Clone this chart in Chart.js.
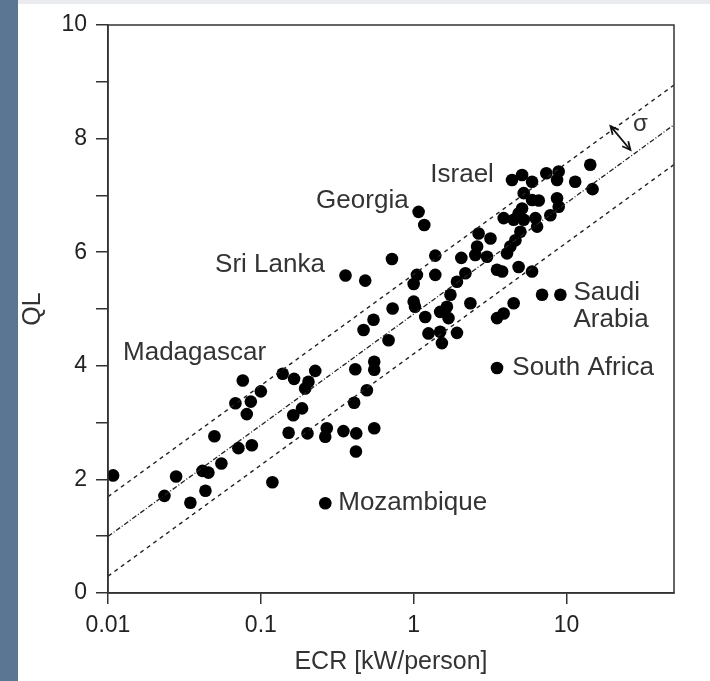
<!DOCTYPE html>
<html><head><meta charset="utf-8">
<script src="https://cdn.jsdelivr.net/npm/chart.js@4/dist/chart.umd.min.js"></script>
<style>
html,body{margin:0;padding:0;background:#fff;width:710px;height:681px;overflow:hidden}
#strip{position:absolute;left:0;top:0;width:18px;height:681px;background:#5b7692}
#topbar{position:absolute;left:18px;top:0;width:692px;height:4px;background:#e9ebee}
#wrap{position:absolute;left:0;top:0;width:710px;height:681px}
</style></head><body>
<div id="strip"></div><div id="topbar"></div>
<div id="wrap"><canvas id="c" width="710" height="681"></canvas></div>
<script>
// ECR [kW/person] for each country
const ecr = [0.0108,0.0762,0.139,0.165,0.100,0.0682,0.0860,0.0809,0.0497,0.152,0.163,0.0713,0.0873,0.0552,0.0415,0.0454,0.0279,0.0234,0.0434,0.0346,0.119,
 0.721,0.358,0.482,0.728,0.546,0.470,0.685,0.227,0.205,0.195,0.186,0.415,0.552,0.552,0.494,0.408,0.202,0.270,0.264,0.347,0.421,0.552,0.419,
 1.077,1.173,1.385,2.05,2.66,3.18,2.60,2.53,3.02,3.51,1.385,1.05,1.0,2.18,1.92,1.74,1.49,1.69,1.65,2.35,1.19,1.0,1.02,1.25,1.49,1.92,1.53,3.51,
 14.3,14.8,4.40,5.12,5.95,7.38,8.89,8.67,11.4,5.25,5.95,6.58,8.67,8.89,7.84,5.12,4.86,3.88,4.51,5.25,6.26,6.42,4.99,4.63,4.29,4.08,3.79,4.86,5.95,6.92,9.12,4.51,3.88,3.51,
 0.264];
// QL for each country
const ql = [2.07,3.74,3.86,3.77,3.55,3.34,3.37,3.15,2.76,2.82,3.13,2.55,2.60,2.28,2.15,2.12,2.05,1.71,1.80,1.59,1.95,
 5.88,5.59,5.50,5.01,4.81,4.63,4.45,3.91,3.72,3.60,3.25,3.94,4.07,3.93,3.57,3.35,2.81,2.90,2.75,2.85,2.81,2.90,2.49,
 6.71,6.48,5.94,5.90,6.33,6.24,6.10,5.95,5.92,5.69,5.60,5.60,5.44,5.63,5.48,5.25,4.95,4.84,5.04,5.10,4.86,5.13,5.04,4.57,4.60,4.58,4.40,4.84,
 7.54,7.11,7.27,7.36,7.24,7.39,7.42,7.27,7.24,7.04,6.92,6.91,6.95,6.80,6.65,6.77,6.68,6.60,6.57,6.57,6.60,6.45,6.36,6.21,6.10,5.98,5.66,5.74,5.66,5.25,5.25,5.10,4.92,3.96,
 1.58];
const xTickValues = [0.01, 0.1, 1, 10];
const yTickValues = [0, 2, 4, 6, 8, 10];
const xMin = 0.01, xMax = 50.5, yMin = 0, yMax = 10;
// regression QL = a + b*log10(ECR), band +/- sigma
const fitIntercept = 4.91, fitSlope = 1.957, fitSigma = 0.7;
// country annotations
const annText = ['Israel','Georgia','Sri Lanka','Madagascar','Saudi','Arabia','South Africa','Mozambique'];
const annX = [1.285, 0.230, 0.0502, 0.01254, 11.1, 11.1, 4.42, 0.321];
const annY = [7.36, 6.90, 5.77, 4.23, 5.28, 4.81, 3.96, 1.58];
const sigmaArrow = {x1: 19.4, y1: 8.22, x2: 26.2, y2: 7.80, tx: 27.2, ty: 8.25};

const fitLine = (off) => [xMin, xMax].map(x => ({x, y: fitIntercept + off + fitSlope * Math.log10(x)}));
const FONT = '"Liberation Sans", Arial, sans-serif';

const overlay = {
  id: 'overlay',
  afterDraw(chart) {
    const {ctx, chartArea: a, scales: {x, y}} = chart;
    ctx.save();
    ctx.strokeStyle = '#333'; ctx.lineWidth = 1.5;
    ctx.strokeRect(a.left, a.top, a.right - a.left, a.bottom - a.top);
    ctx.fillStyle = '#333';
    ctx.font = '26px ' + FONT;
    ctx.textAlign = 'left'; ctx.textBaseline = 'middle';
    annText.forEach((t, i) => ctx.fillText(t, x.getPixelForValue(annX[i]), y.getPixelForValue(annY[i])));
    // sigma arrow
    const p1 = [x.getPixelForValue(sigmaArrow.x1), y.getPixelForValue(sigmaArrow.y1)];
    const p2 = [x.getPixelForValue(sigmaArrow.x2), y.getPixelForValue(sigmaArrow.y2)];
    ctx.strokeStyle = '#111'; ctx.lineWidth = 1.8;
    ctx.beginPath(); ctx.moveTo(p1[0], p1[1]); ctx.lineTo(p2[0], p2[1]); ctx.stroke();
    const head = (tip, from) => {
      const ang = Math.atan2(tip[1] - from[1], tip[0] - from[0]);
      ctx.beginPath();
      ctx.moveTo(tip[0] - 9 * Math.cos(ang - 0.45), tip[1] - 9 * Math.sin(ang - 0.45));
      ctx.lineTo(tip[0], tip[1]);
      ctx.lineTo(tip[0] - 9 * Math.cos(ang + 0.45), tip[1] - 9 * Math.sin(ang + 0.45));
      ctx.stroke();
    };
    head(p1, p2); head(p2, p1);
    ctx.fillStyle = '#333';
    ctx.font = '24px ' + FONT;
    ctx.fillText('σ', x.getPixelForValue(sigmaArrow.tx), y.getPixelForValue(sigmaArrow.ty));
    ctx.restore();
  }
};

new Chart(document.getElementById('c'), {
  type: 'scatter',
  data: {
    datasets: [
      {type: 'line', data: fitLine(fitSigma), borderColor: '#222', borderWidth: 1.4, borderDash: [4, 4], pointRadius: 0, fill: false},
      {type: 'line', data: fitLine(0), borderColor: '#222', borderWidth: 1.3, borderDash: [5, 2, 1, 2], pointRadius: 0, fill: false},
      {type: 'line', data: fitLine(-fitSigma), borderColor: '#222', borderWidth: 1.4, borderDash: [4, 4], pointRadius: 0, fill: false},
      {data: ecr.map((v, i) => ({x: v, y: ql[i]})), backgroundColor: '#000', borderColor: '#000', pointRadius: 6.3, pointHoverRadius: 6.3, borderWidth: 0}
    ]
  },
  options: {
    responsive: false, animation: false,
    layout: {padding: {left: 18, top: 25, right: 36, bottom: 0}},
    plugins: {legend: {display: false}, tooltip: {enabled: false}},
    scales: {
      x: {
        type: 'logarithmic', min: xMin, max: xMax,
        afterBuildTicks: s => { s.ticks = xTickValues.map(v => ({value: v})); },
        afterFit: s => { s.height = 88; },
        ticks: {callback: v => String(v), font: {family: FONT, size: 23}, color: '#222', padding: 8, maxRotation: 0, autoSkip: false},
        grid: {drawOnChartArea: false, tickLength: 11, color: '#333', lineWidth: 1.5},
        border: {color: '#333', width: 1.5},
        title: {display: true, text: 'ECR [kW/person]', font: {family: FONT, size: 25}, color: '#333', padding: {top: 0, bottom: 4}}
      },
      y: {
        min: yMin, max: yMax,
        afterFit: s => { s.width = 90; },
        ticks: {stepSize: 1, callback: v => (yTickValues.includes(v) ? String(v) : ''), font: {family: FONT, size: 23}, color: '#222', padding: 9},
        grid: {drawOnChartArea: false, tickLength: 12, color: '#333', lineWidth: 1.5},
        border: {color: '#333', width: 1.5},
        title: {display: true, text: 'QL', font: {family: FONT, size: 25}, color: '#333', padding: {top: 0, bottom: 0}}
      }
    }
  },
  plugins: [overlay]
});
</script>
</body></html>
